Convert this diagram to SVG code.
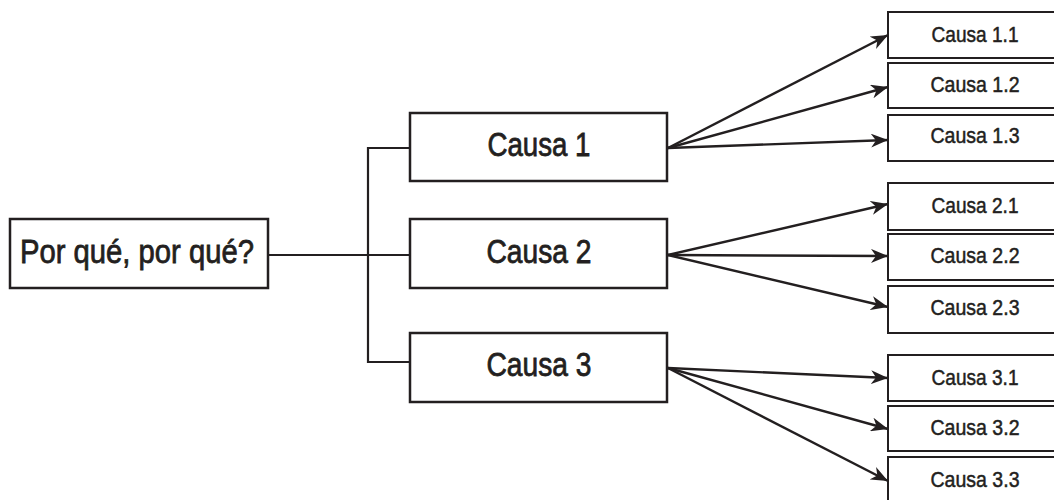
<svg xmlns="http://www.w3.org/2000/svg" width="1054" height="500" viewBox="0 0 1054 500">
<style>
.box{fill:#fff;stroke:#231f20;stroke-width:2.5}
.sbox{fill:#fff;stroke:#231f20;stroke-width:2}
.big{font-family:"Liberation Sans",Arial,sans-serif;font-size:34px;fill:#231f20;stroke:#231f20;stroke-width:0.8;text-anchor:middle}
.small{font-family:"Liberation Sans",Arial,sans-serif;font-size:22px;fill:#231f20;stroke:#231f20;stroke-width:0.5;text-anchor:middle}
.ln{stroke:#231f20;stroke-width:2.2;fill:none}
.ar{stroke:#231f20;stroke-width:2.4;fill:none;marker-end:url(#ah)}
</style>
<defs>
<marker id="ah" markerUnits="userSpaceOnUse" markerWidth="18" markerHeight="14" refX="17" refY="7" orient="auto">
<path d="M0,0 L17,7 L0,14 L5,7 Z" fill="#231f20"/>
</marker>
</defs>
<rect width="1054" height="500" fill="#fff"/>
<g id="connectors">
<line class="ln" x1="268" y1="255" x2="410" y2="255"/>
<polyline class="ln" points="410,148 368,148 368,362 410,362"/>
<line class="ar" x1="668" y1="148" x2="888" y2="35"/>
<line class="ar" x1="668" y1="148" x2="888" y2="87"/>
<line class="ar" x1="668" y1="148" x2="888" y2="140"/>
<line class="ar" x1="668" y1="255" x2="888" y2="204"/>
<line class="ar" x1="668" y1="255" x2="888" y2="256"/>
<line class="ar" x1="668" y1="255" x2="888" y2="307"/>
<line class="ar" x1="668" y1="368" x2="888" y2="378"/>
<line class="ar" x1="668" y1="368" x2="888" y2="429"/>
<line class="ar" x1="668" y1="368" x2="888" y2="481"/>
</g>
<g id="root">
<rect class="box" x="10" y="219" width="258" height="69"/>
<text class="big" x="137" y="263" font-size="35" textLength="234" lengthAdjust="spacingAndGlyphs">Por qué, por qué?</text>
</g>
<g id="causa1">
<rect class="box" x="410" y="113" width="257" height="68"/>
<text class="big" x="539" y="156" textLength="103" lengthAdjust="spacingAndGlyphs">Causa 1</text>
</g>
<g id="causa2">
<rect class="box" x="410" y="219" width="257" height="69"/>
<text class="big" x="539" y="263" textLength="105" lengthAdjust="spacingAndGlyphs">Causa 2</text>
</g>
<g id="causa3">
<rect class="box" x="410" y="333" width="257" height="69"/>
<text class="big" x="539" y="376" textLength="105" lengthAdjust="spacingAndGlyphs">Causa 3</text>
</g>
<g id="causa1-1"><rect class="sbox" x="888" y="12" width="174" height="46"/><text class="small" x="975" y="42" textLength="87" lengthAdjust="spacingAndGlyphs">Causa 1.1</text></g>
<g id="causa1-2"><rect class="sbox" x="888" y="63" width="174" height="45"/><text class="small" x="975" y="92" textLength="89" lengthAdjust="spacingAndGlyphs">Causa 1.2</text></g>
<g id="causa1-3"><rect class="sbox" x="888" y="115" width="174" height="46"/><text class="small" x="975" y="143" textLength="89" lengthAdjust="spacingAndGlyphs">Causa 1.3</text></g>
<g id="causa2-1"><rect class="sbox" x="888" y="183" width="174" height="47"/><text class="small" x="975" y="213" textLength="87" lengthAdjust="spacingAndGlyphs">Causa 2.1</text></g>
<g id="causa2-2"><rect class="sbox" x="888" y="234" width="174" height="46"/><text class="small" x="975" y="263" textLength="89" lengthAdjust="spacingAndGlyphs">Causa 2.2</text></g>
<g id="causa2-3"><rect class="sbox" x="888" y="286" width="174" height="47"/><text class="small" x="975" y="315" textLength="89" lengthAdjust="spacingAndGlyphs">Causa 2.3</text></g>
<g id="causa3-1"><rect class="sbox" x="888" y="355" width="174" height="46"/><text class="small" x="975" y="385" textLength="87" lengthAdjust="spacingAndGlyphs">Causa 3.1</text></g>
<g id="causa3-2"><rect class="sbox" x="888" y="406" width="174" height="45"/><text class="small" x="975" y="435" textLength="89" lengthAdjust="spacingAndGlyphs">Causa 3.2</text></g>
<g id="causa3-3"><rect class="sbox" x="888" y="457" width="174" height="46"/><text class="small" x="975" y="487" textLength="89" lengthAdjust="spacingAndGlyphs">Causa 3.3</text></g>
</svg>
